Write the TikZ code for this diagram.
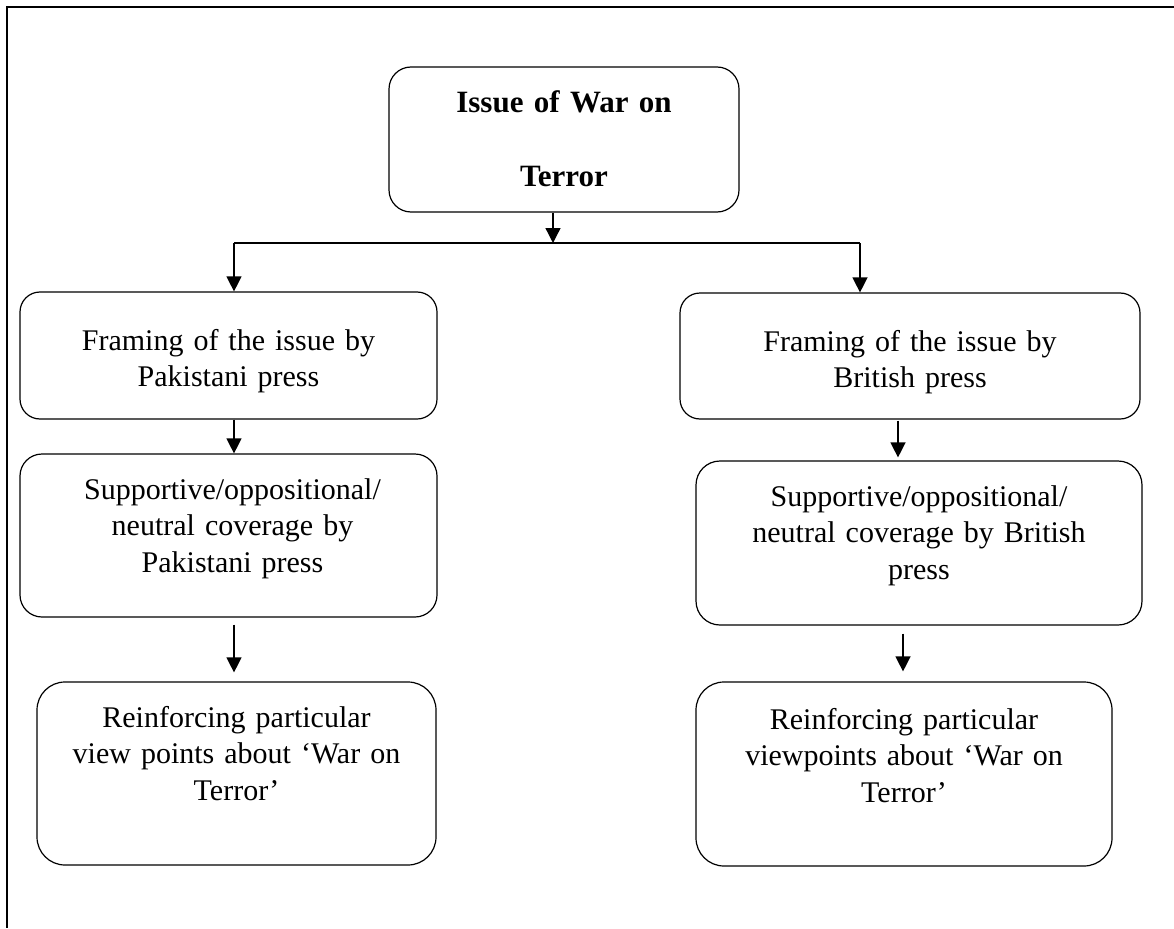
\documentclass[tikz,border=0pt]{standalone}
\usepackage{fontspec}
\setmainfont{Liberation Serif}
\usetikzlibrary{arrows.meta,calc}
\begin{document}
\begin{tikzpicture}[x=1pt,y=-1pt,
  box/.style={draw, line width=1.2pt, inner sep=0pt},
  boxtext/.style={anchor=base, text width=#1, align=center, inner sep=0pt,
    font=\fontsize{30}{36.5}\selectfont},
  arr/.style={line width=1.3pt, -{Triangle[length=15pt,width=15pt]}},
  link/.style={line width=1.3pt},
]
\useasboundingbox (0,0) rectangle (1174,928);
% page frame
\draw[line width=1.8pt] (1174,7) -- (7,7) -- (7,928);

% boxes
\node[box, rounded corners=22pt, minimum width=350pt, minimum height=145pt] (top) at (564,139.5) {};
\node[box, rounded corners=20pt, minimum width=417pt, minimum height=127pt] (L1) at (228.5,355.5) {};
\node[box, rounded corners=22pt, minimum width=417pt, minimum height=163pt] (L2) at (228.5,535.5) {};
\node[box, rounded corners=28pt, minimum width=399pt, minimum height=183pt] (L3) at (236.5,773.5) {};
\node[box, rounded corners=20pt, minimum width=460pt, minimum height=126pt] (R1) at (910,356) {};
\node[box, rounded corners=24pt, minimum width=446pt, minimum height=164pt] (R2) at (919,543) {};
\node[box, rounded corners=28pt, minimum width=416pt, minimum height=184pt] (R3) at (904,774) {};

% box texts
\node[boxtext=330pt, font=\fontsize{31}{74}\selectfont\bfseries] (topt) at ($(top.north)+(0,46)$) {Issue of War on\\Terror};
\node[boxtext=400pt] (L1t) at ($(L1.north)+(0,59)$) {Framing of the issue by\\Pakistani press};
\node[boxtext=400pt] (L2t) at ($(L2.north)+(4,46)$) {Supportive/oppositional/\\neutral coverage by\\Pakistani press};
\node[boxtext=380pt] (L3t) at ($(L3.north)+(0,46)$) {Reinforcing particular\\view points about ‘War on\\Terror’};
\node[boxtext=440pt] (R1t) at ($(R1.north)+(0,59)$) {Framing of the issue by\\British press};
\node[boxtext=430pt] (R2t) at ($(R2.north)+(0,46)$) {Supportive/oppositional/\\neutral coverage by British\\press};
\node[boxtext=400pt] (R3t) at ($(R3.north)+(0,48)$) {Reinforcing particular\\viewpoints about ‘War on\\Terror’};

% connectors
\coordinate (split) at (553,243);
\coordinate (jl) at (234,243);
\coordinate (jr) at (860,243);
\draw[arr] (top.south -| split) -- (split);
\draw[link] (jl) -- (jr);
\draw[arr] (jl) -- (jl |- L1.north);
\draw[arr] (jr) -- (jr |- R1.north);
\draw[arr] (L1.south -| jl) -- (L2.north -| jl);
\draw[arr] ($(L2.south -| jl)+(0,7)$) -- ($(L3.north -| jl)+(0,-9)$);
\draw[arr] ($(R1.south)+(-12,1)$) -- ($(R2.north)+(-21,-3)$);
\draw[arr] ($(R2.south)+(-16,8)$) -- ($(R2.south |- R3.north)+(-16,-10)$);
\end{tikzpicture}
\end{document}
